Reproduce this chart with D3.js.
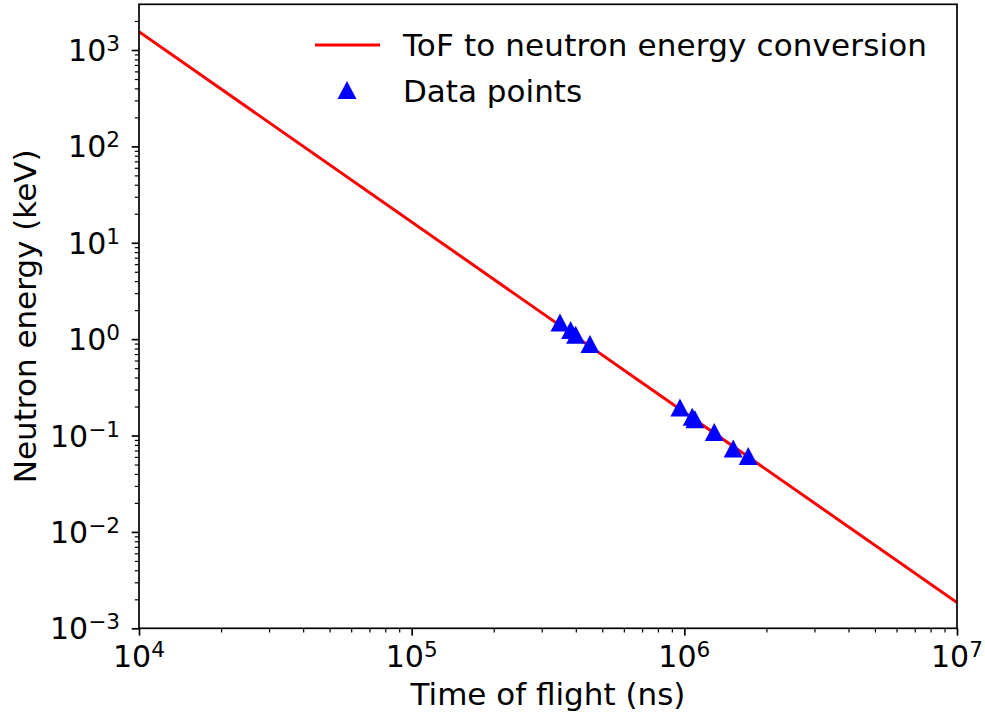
<!DOCTYPE html>
<html>
<head>
<meta charset="utf-8">
<script src="https://cdn.jsdelivr.net/npm/d3@7"></script>
<style>
  body { margin: 0; background: #fff; }
  text { font-family: "DejaVu Sans", sans-serif; fill: #000; }
</style>
</head>
<body>
<div id="chart"></div>
<script>

    const WIDTH = 985;
    const HEIGHT = 717;
    const FONT = 30;
    const LABEL_FONT = 31;

    // conversion line, end points
    const lineTof = [1e4, 1e7];
    const lineEnergy = [1548, 0.00185];

    // measured points
    const pointTof = [349900, 382800, 399400, 450700, 963600, 1069000, 1093600, 1287500, 1511000, 1715000];
    const pointEnergy = [1.486, 1.243, 1.111, 0.889, 0.1952, 0.1563, 0.1476, 0.1087, 0.0733, 0.0613];

    const xMajor = [1e4, 1e5, 1e6, 1e7];
    const xExp = ["4", "5", "6", "7"];
    const yMajor = [1e-3, 1e-2, 1e-1, 1e0, 1e1, 1e2, 1e3];
    const yExp = ["\u22123", "\u22122", "\u22121", "0", "1", "2", "3"];

    const legendLabels = ["ToF to neutron energy conversion", "Data points"];

    var svg = d3.select("#chart").append("svg")
        .attr("width", WIDTH)
        .attr("height", HEIGHT);

    var x = d3.scaleLog().domain([1e4, 1e7]).range([139, 957]);
    var y = d3.scaleLog().domain([1e-3, 2980]).range([628.3, 4.3]);

    // minor ticks first
    var xMinor = x.ticks().filter(function (v) { return xMajor.indexOf(v) < 0; });
    var yMinor = y.ticks().filter(function (v) {
        return !yMajor.some(function (m) { return Math.abs(m - v) / m < 1e-9; });
    });

    var gx = svg.append("g").attr("transform", "translate(0," + y.range()[0] + ")");
    gx.call(d3.axisBottom(x).tickValues(xMinor).tickSize(4.2).tickFormat(""));
    gx.selectAll(".tick line").attr("stroke-width", 1.2);
    gx.select(".domain").remove();

    var gx2 = svg.append("g").attr("transform", "translate(0," + y.range()[0] + ")");
    gx2.call(d3.axisBottom(x).tickValues(xMajor).tickSize(7.3).tickFormat(""));
    gx2.selectAll(".tick line").attr("stroke-width", 1.7);
    gx2.select(".domain").remove();

    var gy = svg.append("g").attr("transform", "translate(" + x.range()[0] + ",0)");
    gy.call(d3.axisLeft(y).tickValues(yMinor).tickSize(4.2).tickFormat(""));
    gy.selectAll(".tick line").attr("stroke-width", 1.2);
    gy.select(".domain").remove();

    var gy2 = svg.append("g").attr("transform", "translate(" + x.range()[0] + ",0)");
    gy2.call(d3.axisLeft(y).tickValues(yMajor).tickSize(7.3).tickFormat(""));
    gy2.selectAll(".tick line").attr("stroke-width", 1.7);
    gy2.select(".domain").remove();

    // tick labels as 10^n
    xMajor.forEach(function (v, i) {
        var t = svg.append("text")
            .attr("x", x(v))
            .attr("y", y.range()[0] + 38.5)
            .attr("text-anchor", "middle")
            .attr("font-size", FONT);
        t.append("tspan").text("10");
        t.append("tspan").attr("font-size", FONT * 0.72).attr("dy", -10).text(xExp[i]);
    });

    yMajor.forEach(function (v, i) {
        var t = svg.append("text")
            .attr("x", 120)
            .attr("y", y(v) + 11)
            .attr("text-anchor", "end")
            .attr("font-size", FONT);
        t.append("tspan").text("10");
        t.append("tspan").attr("font-size", FONT * 0.72).attr("dy", -10).text(yExp[i]);
    });

    // axis labels
    svg.append("text")
        .attr("x", (x.range()[0] + x.range()[1]) / 2)
        .attr("y", 705)
        .attr("text-anchor", "middle")
        .attr("font-size", LABEL_FONT)
        .text("Time of flight (ns)");

    svg.append("text")
        .attr("transform", "translate(35.5," + (y.range()[0] + y.range()[1]) / 2 + ") rotate(-90)")
        .attr("text-anchor", "middle")
        .attr("font-size", LABEL_FONT)
        .text("Neutron energy (keV)");

    // plot area clip
    svg.append("clipPath").attr("id", "plot-clip")
        .append("rect")
        .attr("x", x.range()[0]).attr("y", y.range()[1])
        .attr("width", x.range()[1] - x.range()[0])
        .attr("height", y.range()[0] - y.range()[1]);

    var linePts = lineTof.map(function (t, i) { return [t, lineEnergy[i]]; });
    svg.append("path")
        .datum(linePts)
        .attr("clip-path", "url(#plot-clip)")
        .attr("fill", "none")
        .attr("stroke", "red")
        .attr("stroke-width", 3)
        .attr("d", d3.line().x(function (d) { return x(d[0]); }).y(function (d) { return y(d[1]); }));

    var tri = "M0,-9L9.5,9L-9.5,9Z";

    svg.append("g").selectAll("path")
        .data(pointTof)
        .enter().append("path")
        .attr("d", tri)
        .attr("fill", "blue")
        .attr("transform", function (d, i) {
            return "translate(" + x(d) + "," + y(pointEnergy[i]) + ")";
        });

    // frame
    svg.append("rect")
        .attr("x", x.range()[0]).attr("y", y.range()[1])
        .attr("width", x.range()[1] - x.range()[0])
        .attr("height", y.range()[0] - y.range()[1])
        .attr("fill", "none")
        .attr("stroke", "black")
        .attr("stroke-width", 1.7);

    // legend
    svg.append("line")
        .attr("x1", 315).attr("x2", 380)
        .attr("y1", 45).attr("y2", 45)
        .attr("stroke", "red")
        .attr("stroke-width", 3);

    svg.append("path")
        .attr("d", tri)
        .attr("fill", "blue")
        .attr("transform", "translate(347,90)");

    legendLabels.forEach(function (label, i) {
        svg.append("text")
            .attr("x", 403)
            .attr("y", 56 + i * 45.5)
            .attr("font-size", LABEL_FONT)
            .attr("textLength", i === 0 ? 524 : null)
            .text(label);
    });

</script>
</body>
</html>
